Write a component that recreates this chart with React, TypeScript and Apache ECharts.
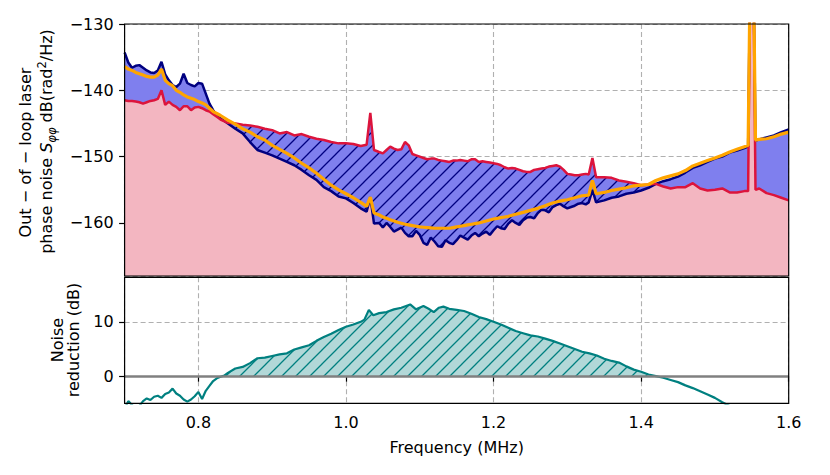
import React, { useEffect, useRef } from 'react';
import * as echarts from 'echarts';

// ---- Top panel: out-of-loop laser phase noise (dB rad^2/Hz) ----
const FREQ = [
  0.700, 0.705, 0.710, 0.715, 0.720, 0.725, 0.730, 0.735, 0.740, 0.745,
  0.750, 0.755, 0.760, 0.765, 0.770, 0.775, 0.780, 0.785, 0.790, 0.795,
  0.800, 0.805, 0.810, 0.815, 0.820, 0.825, 0.830, 0.840, 0.850, 0.860,
  0.870, 0.880, 0.890, 0.900, 0.910, 0.920, 0.930, 0.940, 0.950, 0.960,
  0.970, 0.980, 0.990, 1.000, 1.010, 1.020, 1.028, 1.033, 1.038, 1.045,
  1.050, 1.055, 1.060, 1.065, 1.070, 1.075, 1.080, 1.085, 1.090, 1.095,
  1.100, 1.105, 1.110, 1.115, 1.120, 1.125, 1.130, 1.135, 1.140, 1.145,
  1.150, 1.155, 1.160, 1.165, 1.170, 1.175, 1.180, 1.185, 1.190, 1.195,
  1.200, 1.205, 1.210, 1.215, 1.220, 1.225, 1.230, 1.235, 1.240, 1.245,
  1.250, 1.255, 1.260, 1.265, 1.270, 1.275, 1.280, 1.285, 1.290, 1.295,
  1.300, 1.305, 1.310, 1.315, 1.320, 1.325, 1.329, 1.334,
  1.339, 1.350, 1.360, 1.370, 1.380, 1.390, 1.400, 1.410, 1.420, 1.430,
  1.440, 1.450, 1.460, 1.470, 1.480, 1.490, 1.500, 1.510, 1.520, 1.530,
  1.540, 1.545, 1.548, 1.552, 1.555, 1.560, 1.570, 1.580, 1.590, 1.600,
];

// navy curve (with feedback)
const NAVY = [
  -134.3, -135.8, -136.6, -136.3, -136.2, -136.6, -137.0, -137.3, -137.4, -137.0,
  -135.7, -137.6, -138.5, -139.2, -139.5, -139.0, -137.5, -138.9, -139.2, -139.4,
  -138.9, -139.0, -140.5, -142.0, -143.0, -143.8, -144.2, -145.0, -145.8, -146.5,
  -147.8, -149.0, -149.4, -149.8, -150.3, -150.8, -151.3, -152.0, -152.8, -153.5,
  -154.6, -155.2, -156.0, -156.3, -157.0, -157.8, -158.3, -156.1, -160.1, -160.0,
  -160.7, -160.0, -160.6, -161.3, -161.0, -160.7, -161.5, -162.0, -162.0, -161.2,
  -161.8, -163.0, -163.3, -162.2, -162.8, -163.5, -163.6, -162.6, -163.0, -163.2,
  -162.6, -161.9, -162.2, -162.5, -161.9, -161.5, -162.0, -161.6, -161.3, -161.8,
  -161.1, -160.5, -160.8, -160.9, -160.1, -159.6, -160.0, -160.3, -159.6, -159.2,
  -159.1, -159.3, -158.5, -158.0, -158.1, -158.4, -157.6, -157.3, -157.1, -157.5,
  -157.8, -157.6, -157.4, -157.1, -157.0, -157.2, -156.9, -155.0,
  -156.9, -156.6, -156.2, -156.0, -155.6, -155.4, -155.1, -154.7, -154.1, -153.7,
  -153.4, -153.0, -152.4, -151.7, -151.3, -150.8, -150.3, -150.0, -149.4, -149.1,
  -148.7, -148.5, -120.0, -120.0, -147.6, -147.4, -147.1, -146.8, -146.3, -145.9,
];

// crimson curve (free running)
const RED = [
  -141.5, -141.6, -141.6, -141.7, -141.8, -142.0, -141.8, -141.6, -141.5, -141.3,
  -140.0, -142.2, -141.7, -142.2, -142.5, -143.0, -142.4, -142.4, -143.0, -142.6,
  -142.5, -142.7, -143.0, -143.2, -143.6, -144.0, -144.4, -144.9, -145.0, -145.2,
  -145.3, -145.5, -145.8, -146.0, -146.5, -146.3, -146.8, -146.6, -147.0, -147.3,
  -147.5, -147.8, -148.0, -148.0, -148.1, -148.4, -148.2, -143.4, -149.0, -149.3,
  -149.5, -149.0, -148.5, -148.8, -149.0, -148.9, -147.8, -148.3, -149.6, -149.8,
  -150.0, -150.2, -150.4, -150.3, -150.3, -150.5, -150.6, -150.7, -150.8, -150.6,
  -150.6, -150.5, -150.6, -150.7, -150.4, -150.4, -150.8, -150.7, -150.8, -150.9,
  -151.0, -151.1, -151.3, -151.6, -151.8, -151.7, -151.8, -152.0, -152.2, -152.3,
  -152.3, -152.0, -151.9, -151.8, -151.7, -151.5, -151.4, -151.3, -151.5, -152.0,
  -152.6, -152.7, -152.8, -152.8, -152.7, -152.6, -152.7, -150.2,
  -153.1, -153.1, -153.2, -153.6, -153.8, -154.0, -154.3, -154.2, -154.1, -154.5,
  -154.8, -154.6, -154.6, -154.0, -154.8, -155.1, -155.0, -154.8, -155.4, -155.4,
  -155.2, -155.2, -120.0, -120.0, -155.0, -154.8, -155.5, -155.8, -156.2, -156.6,
];

// orange fitted curve
const FIT = [
  -136.4, -136.8, -137.0, -137.3, -137.5, -137.7, -137.9, -138.0, -138.0, -137.7,
  -136.8, -138.5, -139.0, -139.3, -140.0, -140.3, -140.7, -141.0, -141.2, -141.4,
  -141.7, -141.9, -142.2, -142.7, -143.2, -143.5, -143.8, -144.5, -145.1, -145.8,
  -146.3, -147.0, -147.5, -148.3, -148.9, -149.5, -150.2, -151.0, -151.7, -152.5,
  -153.4, -154.3, -155.0, -155.6, -156.2, -156.9, -157.5, -156.1, -158.5, -158.8,
  -159.1, -159.3, -159.5, -159.7, -159.9, -160.05, -160.2, -160.3, -160.4, -160.5,
  -160.6, -160.65, -160.7, -160.75, -160.8, -160.8, -160.8, -160.8, -160.8, -160.7,
  -160.6, -160.5, -160.4, -160.3, -160.2, -160.1, -160.0, -159.85, -159.7, -159.55,
  -159.4, -159.3, -159.2, -159.1, -159.0, -158.85, -158.7, -158.55, -158.4, -158.25,
  -158.1, -157.95, -157.8, -157.6, -157.4, -157.2, -157.0, -156.85, -156.7, -156.6,
  -156.5, -156.35, -156.2, -156.05, -155.9, -155.85, -155.8, -153.6,
  -155.6, -155.4, -155.1, -154.9, -154.7, -154.4, -154.3, -154.2, -153.6, -153.2,
  -152.9, -152.6, -152.1, -151.4, -151.0, -150.6, -150.2, -149.8, -149.3, -148.9,
  -148.5, -148.3, -120.0, -120.0, -147.5, -147.4, -147.3, -147.0, -146.6, -146.3,
];

// ---- Bottom panel: noise reduction (dB) ----
const NR_FREQ = [
  0.700, 0.705, 0.710, 0.715, 0.720, 0.725, 0.730, 0.735, 0.740, 0.745,
  0.750, 0.755, 0.760, 0.765, 0.770, 0.775, 0.780, 0.785, 0.790, 0.795,
  0.800, 0.805, 0.810, 0.815, 0.820, 0.825, 0.830, 0.835, 0.840, 0.850,
  0.860, 0.870, 0.880, 0.890, 0.900, 0.910, 0.920, 0.930, 0.940, 0.950,
  0.960, 0.970, 0.980, 0.990, 1.000, 1.010, 1.020, 1.025, 1.031, 1.037,
  1.045, 1.055, 1.065, 1.075, 1.087, 1.095, 1.105, 1.112, 1.119, 1.126,
  1.132, 1.140, 1.150, 1.160, 1.170, 1.180, 1.190, 1.200, 1.210, 1.220,
  1.230, 1.240, 1.250, 1.260, 1.270, 1.280, 1.290, 1.300, 1.310, 1.320,
  1.330, 1.340, 1.350, 1.360, 1.370, 1.380, 1.390, 1.400, 1.410, 1.420,
  1.430, 1.440, 1.450, 1.460, 1.470, 1.480, 1.490, 1.500, 1.510, 1.520,
];
const NR = [
  -6.0, -4.6, -5.3, -6.0, -5.5, -4.6, -4.1, -4.4, -3.8, -3.6,
  -4.0, -3.3, -3.0, -2.3, -3.2, -3.6, -4.3, -4.7, -4.3, -3.7,
  -2.9, -4.2, -2.7, -1.8, -0.9, -0.4, -0.1, 0.1, 0.6, 1.4,
  1.7, 2.4, 3.3, 3.4, 3.7, 4.0, 4.2, 4.9, 5.3, 5.7,
  6.5, 7.2, 7.8, 8.5, 9.1, 9.5, 10.0, 10.4, 12.2, 11.2,
  11.6, 11.8, 12.3, 12.6, 13.2, 12.3, 12.9, 12.4, 11.8, 12.6,
  12.8, 12.4, 12.2, 12.0, 11.5, 10.9, 10.5, 10.0, 9.5, 8.9,
  8.3, 7.9, 7.5, 7.3, 6.9, 6.5, 6.0, 5.5, 5.0, 4.5,
  4.2, 3.8, 3.2, 2.8, 2.5, 1.8, 1.2, 0.8, 0.3, 0.0,
  -0.3, -0.7, -1.1, -1.7, -2.2, -2.8, -3.4, -4.0, -4.8, -5.5,
];

const X_RANGE = [0.7, 1.6];
const TOP_Y_RANGE = [-168, -130];
const BOT_Y_RANGE = [-5, 18.2];
const ZERO_LEVEL = 0;

const FONT = 'DejaVu Sans';

function makeHatch(bg: string, line: string, size: number, lw: number) {
  const c = document.createElement('canvas');
  c.width = size;
  c.height = size;
  const g = c.getContext('2d')!;
  g.fillStyle = bg;
  g.fillRect(0, 0, size, size);
  g.strokeStyle = line;
  g.lineWidth = lw;
  g.beginPath();
  g.moveTo(-2, size + 2);
  g.lineTo(size + 2, -2);
  g.moveTo(-2, 2);
  g.lineTo(2, -2);
  g.moveTo(size - 2, size + 2);
  g.lineTo(size + 2, size - 2);
  g.stroke();
  return c;
}

const fmtMinus = (v: number) => (v < 0 ? '\u2212' + Math.abs(v) : String(v));

export default function App() {
  const ref = useRef<HTMLDivElement>(null);
  useEffect(() => {
    const chart = echarts.init(ref.current!, null, { renderer: 'svg' });

    const upper = FREQ.map((f, i) => [f, Math.max(RED[i], NAVY[i])]);
    const lower = FREQ.map((f, i) => [f, Math.min(RED[i], NAVY[i])]);
    const redPts = FREQ.map((f, i) => [f, RED[i]]);
    const navyPts = FREQ.map((f, i) => [f, NAVY[i]]);
    const fitPts = FREQ.map((f, i) => [f, FIT[i]]);
    const nrPts = NR_FREQ.map((f, i) => [f, NR[i]]);
    const nrPos = NR_FREQ.map((f, i) => [f, Math.max(NR[i], ZERO_LEVEL)]);

    const blueHatch = makeHatch('#7f7fee', '#000080', 14, 1.3);
    const tealHatch = makeHatch('#b2d8d8', '#008080', 14, 1.3);

    const G1 = { left: 124.6, top: 24, width: 664.1, height: 252 };
    const G2 = { left: 124.6, top: 277.3, width: 664.1, height: 126 };

    const gridLine = { show: true, lineStyle: { color: '#b0b0b0', width: 1.1, type: [5, 3] as any } };
    const tick = { show: true, length: 5.5, lineStyle: { color: '#000', width: 1.2 } };
    const lbl = { color: '#000', fontSize: 16, fontFamily: FONT };

    const areaBase = {
      type: 'line',
      showSymbol: false,
      symbol: 'none',
      silent: true,
      lineStyle: { width: 0, opacity: 0 },
    };

    const option: any = {
      animation: false,
      backgroundColor: '#ffffff',
      grid: [
        { ...G1, show: false, outerBoundsMode: 'none' },
        { ...G2, show: false, outerBoundsMode: 'none' },
      ],
      xAxis: [
        {
          gridIndex: 0, type: 'value', min: X_RANGE[0], max: X_RANGE[1],
          axisLine: { show: false }, axisTick: { show: false }, axisLabel: { show: false },
          splitLine: gridLine,
        },
        {
          gridIndex: 1, type: 'value', min: X_RANGE[0], max: X_RANGE[1],
          axisLine: { show: false }, axisTick: tick,
          axisLabel: { ...lbl, margin: 11, showMinLabel: false, formatter: (v: number) => v.toFixed(1) },
          splitLine: gridLine,
          name: 'Frequency (MHz)', nameLocation: 'middle', nameGap: 36,
          nameTextStyle: { ...lbl },
        },
      ],
      yAxis: [
        {
          gridIndex: 0, type: 'value', min: TOP_Y_RANGE[0], max: TOP_Y_RANGE[1], splitNumber: 4,
          axisLine: { show: false }, axisTick: tick,
          axisLabel: { ...lbl, margin: 11, showMinLabel: false, formatter: fmtMinus },
          splitLine: gridLine,
        },
        {
          gridIndex: 1, type: 'value', min: BOT_Y_RANGE[0], max: BOT_Y_RANGE[1], splitNumber: 2,
          axisLine: { show: false }, axisTick: tick,
          axisLabel: { ...lbl, margin: 11, showMinLabel: false, showMaxLabel: false, formatter: fmtMinus },
          splitLine: gridLine,
        },
      ],
      series: [
        { ...areaBase, name: 'band', xAxisIndex: 0, yAxisIndex: 0, data: upper,
          areaStyle: { color: '#7f7fee', opacity: 1, origin: 'start' } },
        { ...areaBase, name: 'hatch', xAxisIndex: 0, yAxisIndex: 0, data: redPts,
          areaStyle: { color: { image: blueHatch, repeat: 'repeat' }, opacity: 1, origin: 'start' } },
        { ...areaBase, name: 'pink', xAxisIndex: 0, yAxisIndex: 0, data: lower,
          areaStyle: { color: '#f3b6c1', opacity: 1, origin: 'start' } },
        { type: 'line', name: 'navy', xAxisIndex: 0, yAxisIndex: 0, data: navyPts, symbol: 'none', silent: true,
          lineStyle: { color: '#000080', width: 2.5 } },
        { type: 'line', name: 'red', xAxisIndex: 0, yAxisIndex: 0, data: redPts, symbol: 'none', silent: true,
          lineStyle: { color: '#dc143c', width: 2.5 } },
        { type: 'line', name: 'fit', xAxisIndex: 0, yAxisIndex: 0, data: fitPts, symbol: 'none', silent: true,
          lineStyle: { color: '#ffa500', width: 3.2 } },
        { ...areaBase, name: 'nrfill', xAxisIndex: 1, yAxisIndex: 1, data: nrPos,
          areaStyle: { color: { image: tealHatch, repeat: 'repeat' }, opacity: 1, origin: 'auto' },
          markLine: {
            silent: true, symbol: 'none', label: { show: false },
            lineStyle: { color: '#808080', width: 2.6, type: 'solid' },
            data: [{ yAxis: ZERO_LEVEL }],
          } },
        { type: 'line', name: 'nr', xAxisIndex: 1, yAxisIndex: 1, data: nrPts, symbol: 'none', silent: true,
          lineStyle: { color: '#008080', width: 2.2 } },
      ],
      graphic: [
        { type: 'rect', z: 100, silent: true,
          shape: { x: G1.left, y: G1.top, width: G1.width, height: G1.height },
          style: { fill: 'none', stroke: '#000', lineWidth: 1.2 } },
        { type: 'rect', z: 100, silent: true,
          shape: { x: G2.left, y: G2.top, width: G2.width, height: G2.height },
          style: { fill: 'none', stroke: '#000', lineWidth: 1.2 } },
        { type: 'text', x: 25, y: 152.5, rotation: Math.PI / 2, z: 100,
          style: { text: 'Out \u2212 of \u2212 loop laser', fontSize: 16, fontFamily: FONT, fill: '#000',
            align: 'center', verticalAlign: 'middle' } },
        { type: 'text', x: 46.5, y: 141.5, rotation: Math.PI / 2, z: 100,
          style: {
            text: '{n|phase noise }{i|S}{sub|\u03c6\u03c6}{n| dB(rad}{sup|2}{n|/Hz)}',
            fontSize: 16, fontFamily: FONT, fill: '#000', align: 'center', verticalAlign: 'middle',
            rich: {
              n: { fontSize: 16, fontFamily: FONT, lineHeight: 22, verticalAlign: 'middle' },
              i: { fontSize: 16, fontFamily: FONT, fontStyle: 'italic', lineHeight: 22, verticalAlign: 'middle' },
              sub: { fontSize: 11.5, fontFamily: FONT, fontStyle: 'italic', lineHeight: 14, verticalAlign: 'bottom' },
              sup: { fontSize: 11.5, fontFamily: FONT, lineHeight: 8, verticalAlign: 'top' },
            },
          } },
        { type: 'text', x: 57, y: 340, rotation: Math.PI / 2, z: 100,
          style: { text: 'Noise', fontSize: 16, fontFamily: FONT, fill: '#000', align: 'center', verticalAlign: 'middle' } },
        { type: 'text', x: 73.5, y: 340, rotation: Math.PI / 2, z: 100,
          style: { text: 'reduction (dB)', fontSize: 16, fontFamily: FONT, fill: '#000', align: 'center', verticalAlign: 'middle' } },
      ],
    };

    chart.setOption(option);
    return () => chart.dispose();
  }, []);

  return <div ref={ref} style={{ position: 'absolute', left: 0, top: 0, width: 830, height: 475 }} />;
}
